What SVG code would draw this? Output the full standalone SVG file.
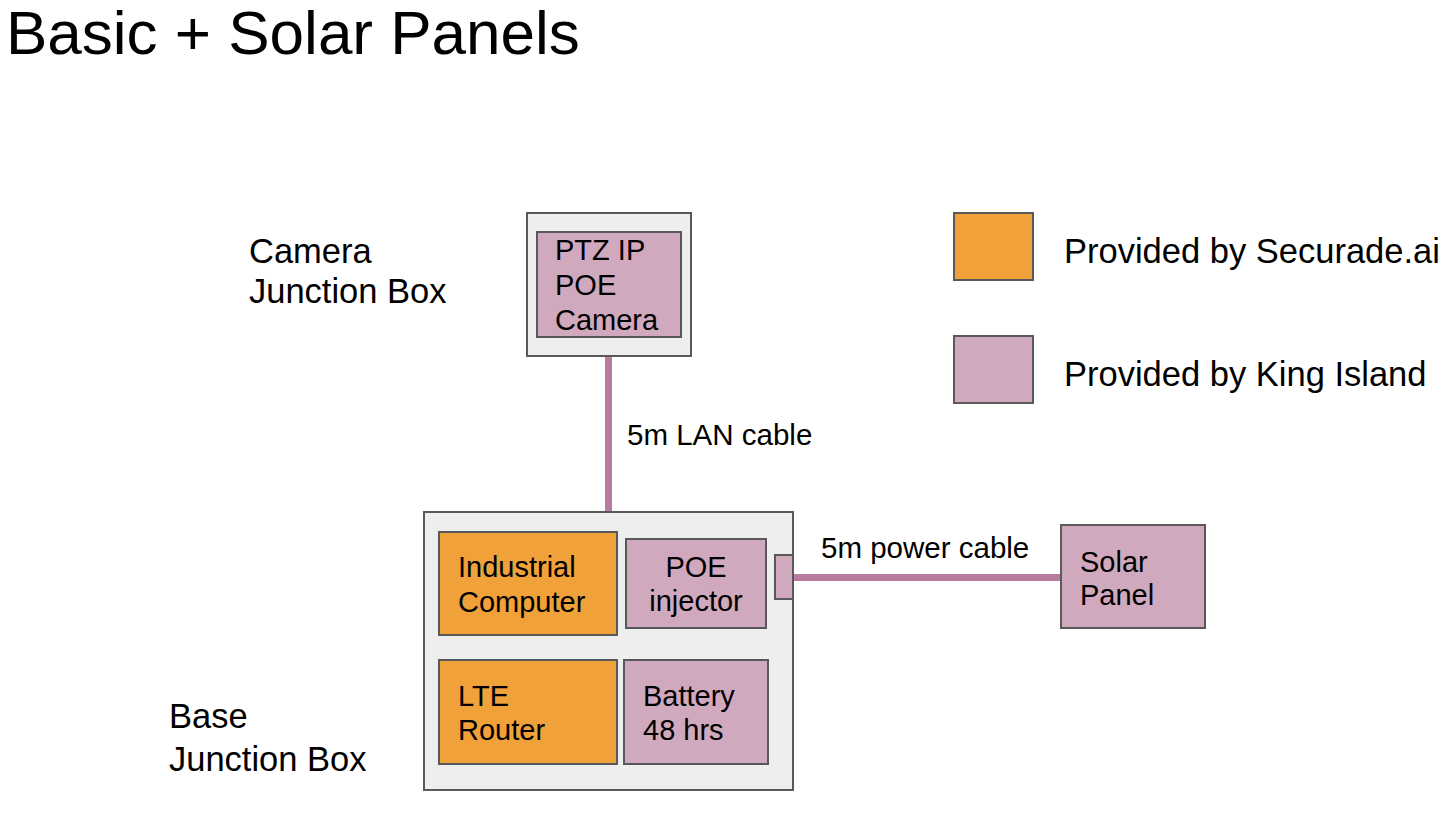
<svg xmlns="http://www.w3.org/2000/svg" width="1446" height="828" viewBox="0 0 1446 828">
<style>
text{font-family:"Liberation Sans",Arial,sans-serif;fill:#000}
.t29{font-size:29px}
.tc{font-size:29.5px}
.t34{font-size:34.5px}
.box{fill:#eeeeee;stroke:#595959;stroke-width:2}
.or{fill:#f1a13a;stroke:#595959;stroke-width:2}
.pk{fill:#d0a9be;stroke:#595959;stroke-width:2}
.cable{stroke:#b97ba0;stroke-width:7;fill:none}
</style>
<rect width="1446" height="828" fill="#ffffff"/>
<text x="6" y="54" font-size="62">Basic + Solar Panels</text>

<g id="connectors">
<line class="cable" x1="608.5" y1="356" x2="608.5" y2="515"/>
<line class="cable" x1="793" y1="577.5" x2="1061" y2="577.5"/>
<text class="tc" x="627" y="445">5m LAN cable</text>
<text class="tc" x="821" y="558">5m power cable</text>
</g>

<g id="camera-junction-box">
<rect class="box" x="527" y="213" width="164" height="143"/>
<text class="t34" x="249" y="263">Camera</text>
<text class="t34" x="249" y="303">Junction Box</text>
</g>
<g id="ptz-camera">
<rect class="pk" x="537" y="232" width="144" height="105"/>
<text class="t29" x="555" y="260">PTZ IP</text>
<text class="t29" x="555" y="295">POE</text>
<text class="t29" x="555" y="330">Camera</text>
</g>

<g id="base-junction-box">
<rect class="box" x="424" y="512" width="369" height="278"/>
<text class="t34" x="169" y="728">Base</text>
<text class="t34" x="169" y="771">Junction Box</text>
</g>
<g id="industrial-computer">
<rect class="or" x="439" y="532" width="178" height="103"/>
<text class="t29" x="458" y="577">Industrial</text>
<text class="t29" x="458" y="612">Computer</text>
</g>
<g id="poe-injector">
<rect class="pk" x="626" y="539" width="140" height="89"/>
<text class="t29" x="696" y="577" text-anchor="middle">POE</text>
<text class="t29" x="696" y="611" text-anchor="middle">injector</text>
</g>
<g id="port">
<rect class="pk" x="775" y="555" width="18" height="44"/>
</g>
<g id="lte-router">
<rect class="or" x="439" y="660" width="178" height="104"/>
<text class="t29" x="458" y="706">LTE</text>
<text class="t29" x="458" y="740">Router</text>
</g>
<g id="battery">
<rect class="pk" x="624" y="660" width="144" height="104"/>
<text class="t29" x="643" y="706">Battery</text>
<text class="t29" x="643" y="740">48 hrs</text>
</g>

<g id="solar-panel">
<rect class="pk" x="1061" y="525" width="144" height="103"/>
<text class="t29" x="1080" y="572">Solar</text>
<text class="t29" x="1080" y="605">Panel</text>
</g>

<g id="legend">
<rect class="or" x="954" y="213" width="79" height="67"/>
<text class="t34" x="1064" y="263">Provided by Securade.ai</text>
<rect class="pk" x="954" y="336" width="79" height="67"/>
<text class="t34" x="1064" y="386">Provided by King Island</text>
</g>
</svg>
